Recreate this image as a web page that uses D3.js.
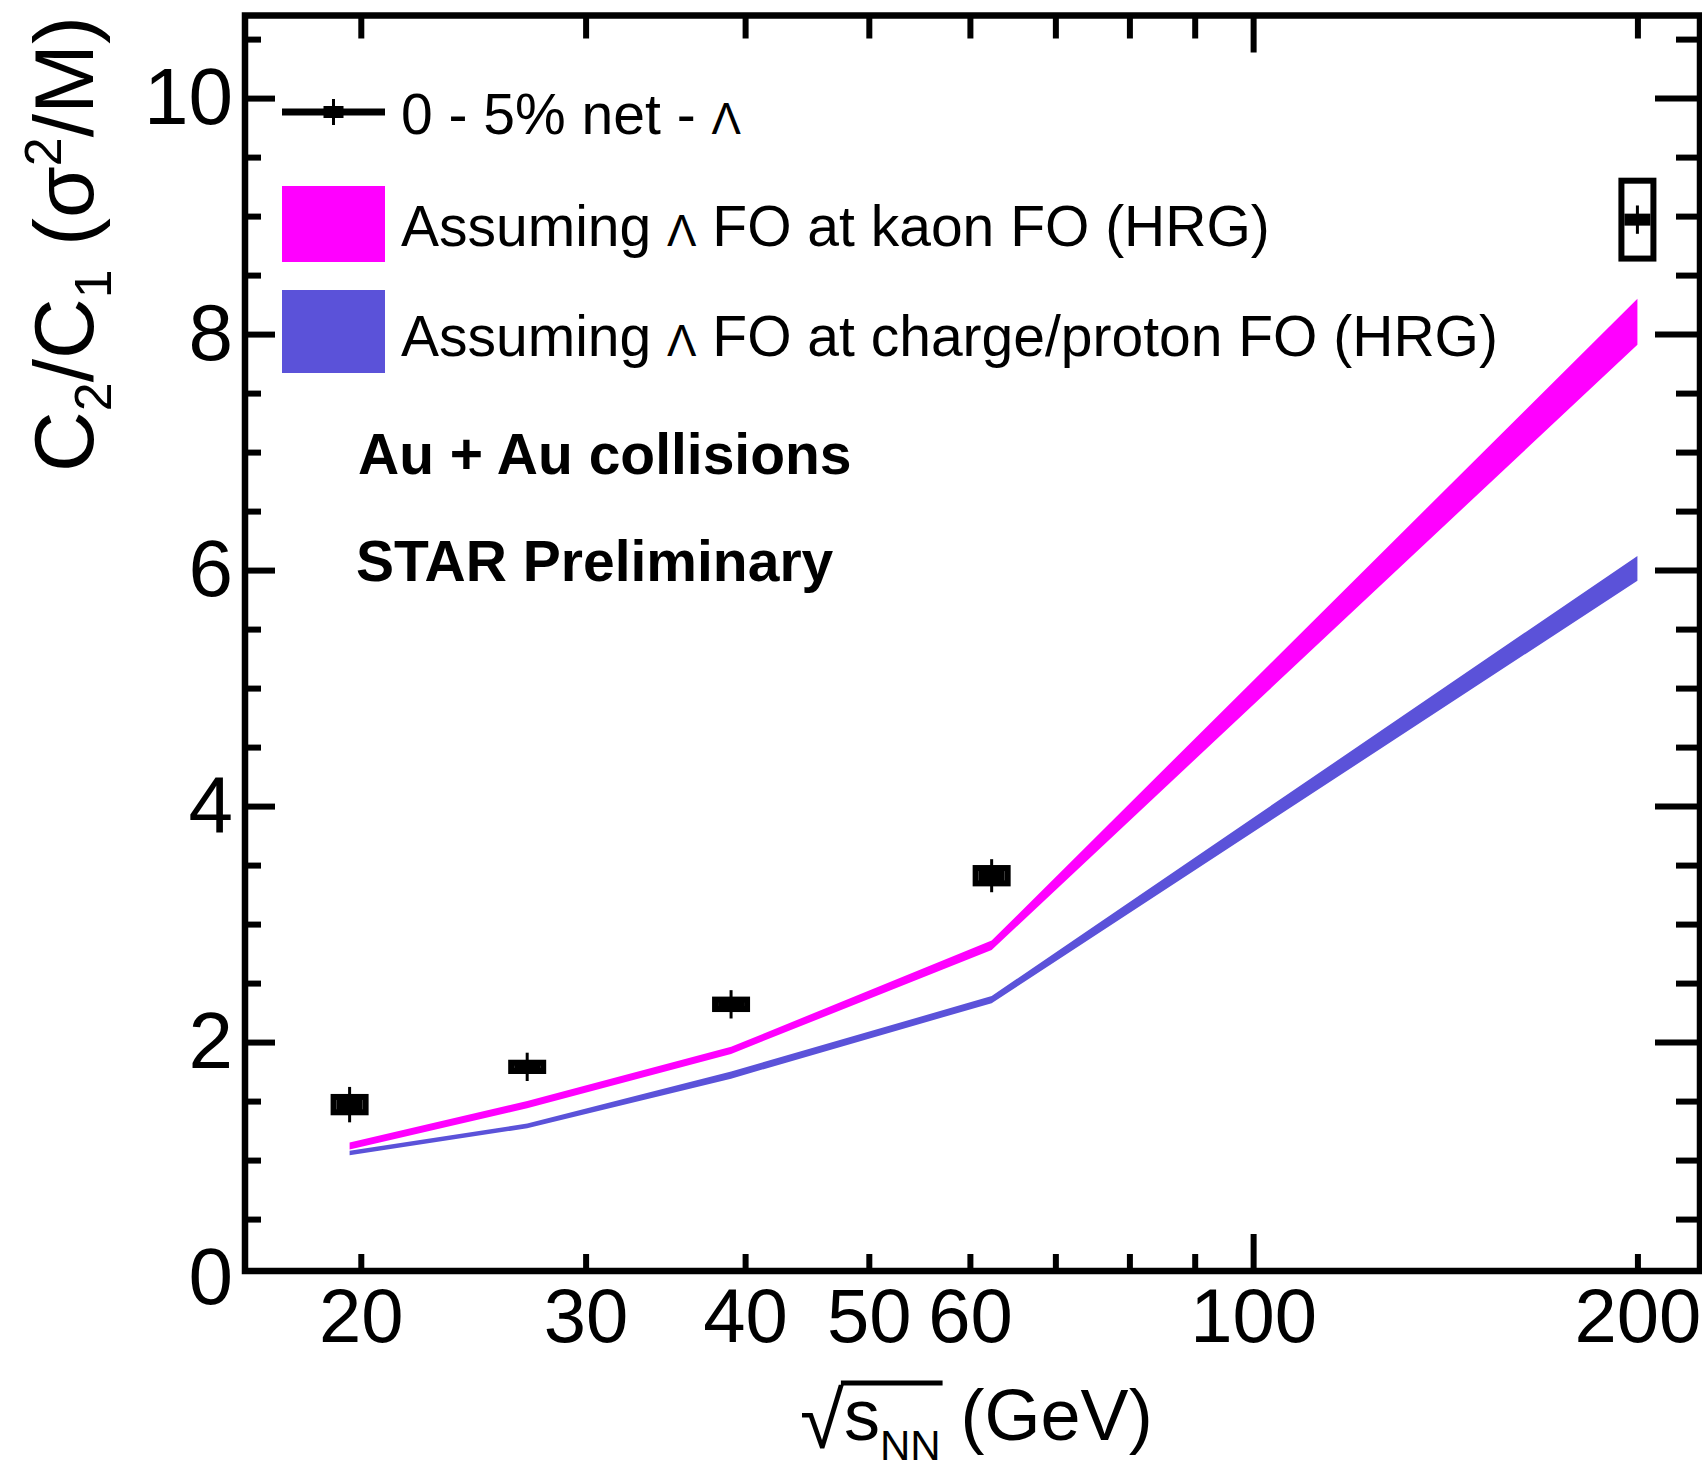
<!DOCTYPE html>
<html><head><meta charset="utf-8">
<script src="https://cdn.jsdelivr.net/npm/d3@7"></script>
<style>
body{margin:0;background:#fff}
svg{display:block}
text{font-family:"Liberation Sans",Arial,Helvetica,sans-serif;fill:#000}
</style>
</head><body>
<svg id="c" width="1702" height="1469"></svg>
<script>
// ---- data ----
const energies   = [19.6, 27, 39, 62.4, 200];
const netLambda  = [1.47, 1.79, 2.32, 3.41, 8.97];
const statErr    = [0.15, 0.12, 0.12, 0.14, 0.12];
const sysErr     = [0.065, 0.035, 0.04, 0.065, 0.33];
const kaonLo     = [1.09, 1.44, 1.90, 2.78, 7.91];
const kaonHi     = [1.15, 1.50, 1.96, 2.86, 8.30];
const protonLo   = [1.04, 1.27, 1.69, 2.33, 5.91];
const protonHi   = [1.08, 1.31, 1.75, 2.39, 6.12];
const xMinorTicks = [20, 30, 40, 50, 60, 70, 80, 90, 200];
const xMajorTicks = [100];
const xTickLabels = [20, 30, 40, 50, 60, 100, 200];
const yMajorTicks = [0, 2, 4, 6, 8, 10];
const yMinorTicks = [0.5, 1, 1.5, 2.5, 3, 3.5, 4.5, 5, 5.5, 6.5, 7, 7.5, 8.5, 9, 9.5, 10.5];
const legendLabels = ["0 - 5% net - Λ", "Assuming Λ FO at kaon FO (HRG)", "Assuming Λ FO at charge/proton FO (HRG)"];
const notes = ["Au + Au collisions", "STAR Preliminary"];

// ---- layout ----
const L = 245, R = 1700, T = 15.5, B = 1271;
const MAGENTA = "#ff00ff", BLUE = "#5b52d9";
const svg = d3.select("#c");
const x = d3.scaleLog().domain([16.23, 223.9]).range([L, R]);
const y = d3.scaleLinear().domain([0.06, 10.7]).range([B, T]);

// ---- bands ----
const band = (lo, hi) => energies.map((e, i) => ({e, lo: lo[i], hi: hi[i]}));
const area = d3.area().x(d => x(d.e)).y0(d => y(d.lo)).y1(d => y(d.hi));
svg.append("path").datum(band(protonLo, protonHi)).attr("d", area).attr("fill", BLUE);
svg.append("path").datum(band(kaonLo, kaonHi)).attr("d", area).attr("fill", MAGENTA);

// ---- data points ----
const pts = energies.map((e, i) => ({e, v: netLambda[i], s: statErr[i], sy: sysErr[i]}));
const g = svg.append("g").selectAll("g").data(pts).join("g");
g.append("line")
  .attr("x1", d => x(d.e)).attr("x2", d => x(d.e))
  .attr("y1", d => y(d.v - d.s)).attr("y2", d => y(d.v + d.s))
  .attr("stroke", "#000").attr("stroke-width", 3);
g.append("rect")
  .attr("x", d => x(d.e) - 16).attr("width", 32)
  .attr("y", d => y(d.v + d.sy)).attr("height", d => y(d.v - d.sy) - y(d.v + d.sy))
  .attr("fill", "none").attr("stroke", "#000").attr("stroke-width", 6);
g.append("rect").attr("x", d => x(d.e) - 13).attr("y", d => y(d.v) - 6)
  .attr("width", 26).attr("height", 12).attr("fill", "#000");

// ---- axes / ticks ----
function styleTicks(sel) {
  sel.select(".domain").remove();
  sel.selectAll(".tick line").attr("stroke", "#000").attr("stroke-width", 6);
}
svg.append("g").attr("transform", `translate(0,${B})`)
  .call(d3.axisBottom(x).tickValues(xMinorTicks).tickSize(-17).tickFormat(""))
  .call(styleTicks);
svg.append("g").attr("transform", `translate(0,${B})`)
  .call(d3.axisBottom(x).tickValues(xMajorTicks).tickSize(-37).tickFormat(""))
  .call(styleTicks);
svg.append("g").attr("transform", `translate(0,${T})`)
  .call(d3.axisTop(x).tickValues(xMinorTicks).tickSize(-23).tickFormat(""))
  .call(styleTicks);
svg.append("g").attr("transform", `translate(0,${T})`)
  .call(d3.axisTop(x).tickValues(xMajorTicks).tickSize(-37).tickFormat(""))
  .call(styleTicks);
svg.append("g").attr("transform", `translate(${L},0)`)
  .call(d3.axisLeft(y).tickValues(yMinorTicks).tickSize(-16).tickFormat(""))
  .call(styleTicks);
svg.append("g").attr("transform", `translate(${L},0)`)
  .call(d3.axisLeft(y).tickValues(yMajorTicks.filter(v => v > 0)).tickSize(-30).tickFormat(""))
  .call(styleTicks);
svg.append("g").attr("transform", `translate(${R},0)`)
  .call(d3.axisRight(y).tickValues(yMinorTicks).tickSize(-24).tickFormat(""))
  .call(styleTicks);
svg.append("g").attr("transform", `translate(${R},0)`)
  .call(d3.axisRight(y).tickValues(yMajorTicks.filter(v => v > 0)).tickSize(-45).tickFormat(""))
  .call(styleTicks);

// tick labels
const yLab = svg.append("g").attr("transform", `translate(${L},0)`)
  .call(d3.axisLeft(y).tickValues(yMajorTicks).tickSize(0).tickPadding(12).tickFormat(d3.format("d")));
yLab.select(".domain").remove();
yLab.selectAll("text").attr("font-size", 80).attr("font-family", null).attr("fill", "#000");
const xLab = svg.append("g").attr("transform", `translate(0,${B})`)
  .call(d3.axisBottom(x).tickValues(xTickLabels).tickSize(0).tickPadding(17).tickFormat(d3.format("d")));
xLab.select(".domain").remove();
xLab.selectAll("text").attr("font-size", 76).attr("font-family", null).attr("fill", "#000");

// frame
svg.append("rect").attr("x", L).attr("y", T).attr("width", R - L).attr("height", B - T)
  .attr("fill", "none").attr("stroke", "#000").attr("stroke-width", 6.5);

// ---- axis titles ----
const yt = svg.append("text").attr("transform", "translate(93,16) rotate(-90)")
  .attr("text-anchor", "end").attr("font-size", 84);
yt.append("tspan").text("C");
yt.append("tspan").attr("font-size", 52).attr("dy", 18).text("2");
yt.append("tspan").attr("dy", -18).text("/C");
yt.append("tspan").attr("font-size", 52).attr("dy", 18).text("1");
yt.append("tspan").attr("dy", -18).text(" (σ");
yt.append("tspan").attr("font-size", 52).attr("dy", -32).text("2");
yt.append("tspan").attr("dy", 32).text("/M)");

const xt = svg.append("text").attr("x", 800).attr("y", 1440).attr("font-size", 72);
xt.append("tspan").attr("font-size", 80).attr("dy", 8).text("√");
xt.append("tspan").attr("dy", -8).text("s");
xt.append("tspan").attr("font-size", 42).attr("dy", 20).text("NN");
xt.append("tspan").attr("dy", -20).text(" (GeV)");
{
  const n = xt.node();
  const x0 = n.getEndPositionOfChar(0).x - 3;
  const x1 = n.getEndPositionOfChar(3).x + 2;
  svg.append("line").attr("x1", x0).attr("x2", x1).attr("y1", 1383).attr("y2", 1383)
    .attr("stroke", "#000").attr("stroke-width", 5);
}

// ---- legend ----
const LX0 = 282, LX1 = 385, TX = 401;
svg.append("line").attr("x1", LX0).attr("x2", LX1).attr("y1", 112).attr("y2", 112)
  .attr("stroke", "#000").attr("stroke-width", 7);
svg.append("line").attr("x1", (LX0 + LX1) / 2).attr("x2", (LX0 + LX1) / 2).attr("y1", 99).attr("y2", 125)
  .attr("stroke", "#000").attr("stroke-width", 3);
svg.append("rect").attr("x", (LX0 + LX1) / 2 - 10).attr("y", 106).attr("width", 20).attr("height", 12).attr("fill", "#000");
svg.append("rect").attr("x", LX0).attr("y", 186).attr("width", LX1 - LX0).attr("height", 76).attr("fill", MAGENTA);
svg.append("rect").attr("x", LX0).attr("y", 290).attr("width", LX1 - LX0).attr("height", 83).attr("fill", BLUE);
const legendBaselines = [134, 246, 356];
svg.append("g").selectAll("text").data(legendLabels).join("text")
  .attr("x", TX).attr("y", (d, i) => legendBaselines[i]).attr("font-size", 57)
  .each(function(d) {
    const t = d3.select(this);
    d.split("Λ").forEach((part, k) => {
      if (k > 0) t.append("tspan").attr("font-size", 44).text("Λ");
      t.append("tspan").text(part);
    });
  });

// ---- notes ----
const noteX = [358, 356], noteY = [474, 581];
svg.append("g").selectAll("text").data(notes).join("text")
  .attr("x", (d, i) => noteX[i]).attr("y", (d, i) => noteY[i])
  .attr("font-size", 57).attr("font-weight", "bold").text(d => d);
</script>
</body></html>
